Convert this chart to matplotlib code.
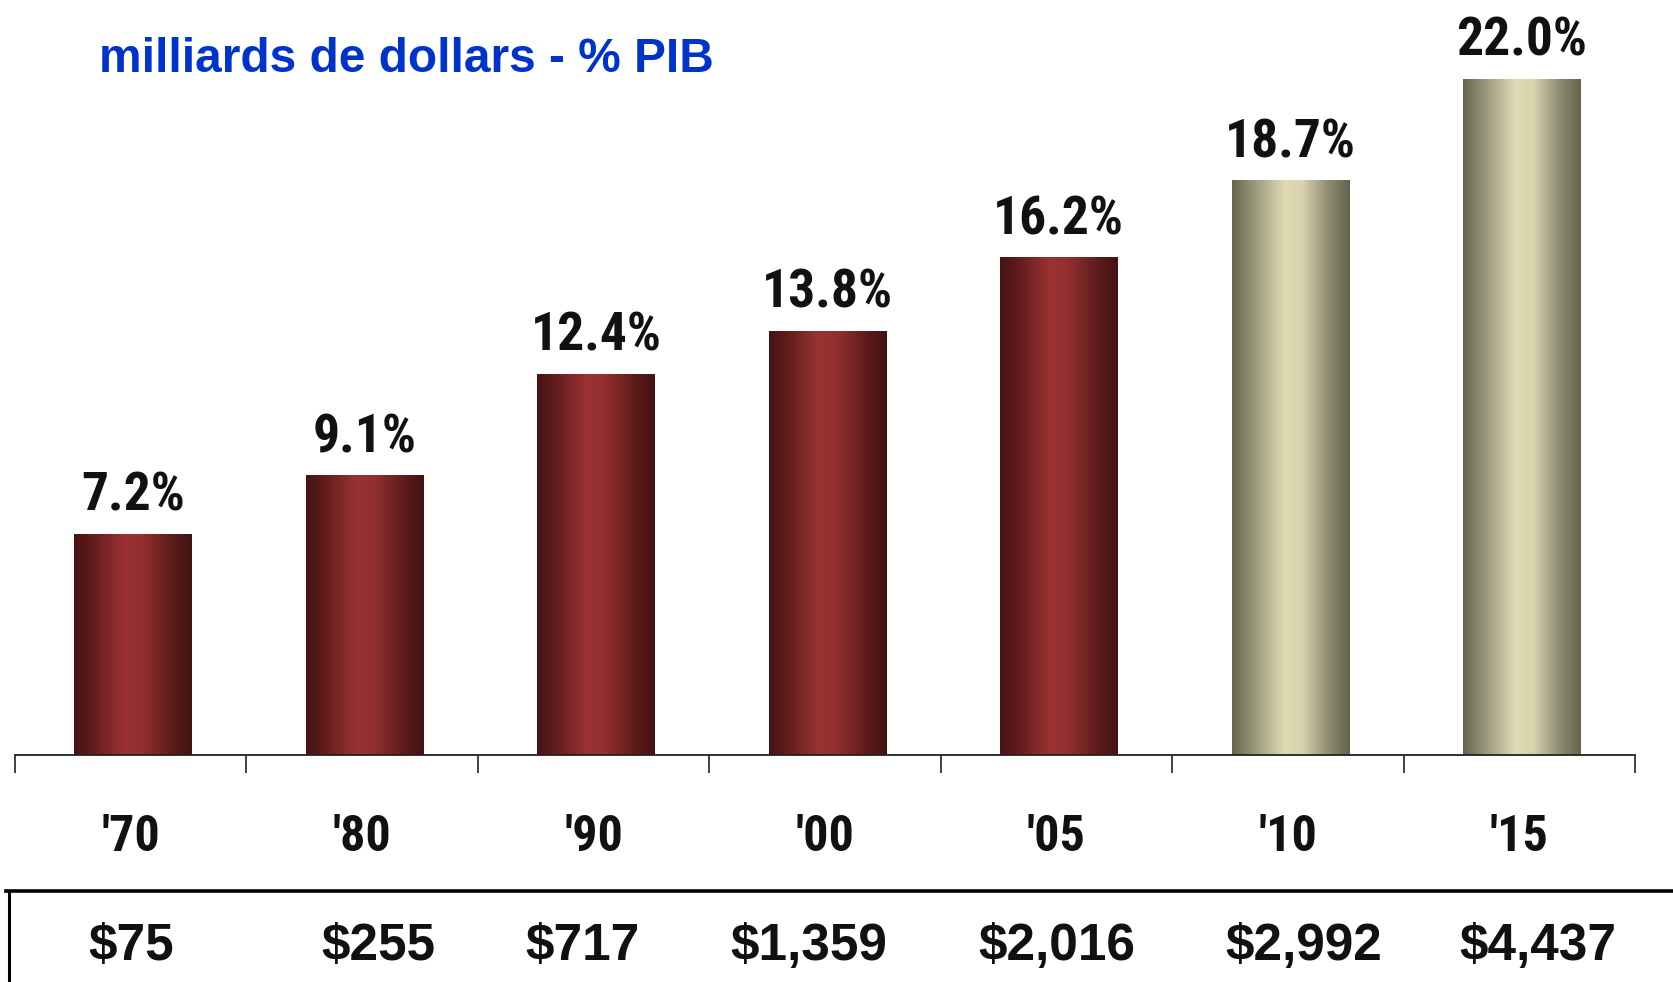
import numpy as np
import matplotlib
matplotlib.use("Agg")
import matplotlib.pyplot as plt
from matplotlib import font_manager
from matplotlib.colors import LinearSegmentedColormap
from matplotlib.lines import Line2D

years = ["'70", "'80", "'90", "'00", "'05", "'10", "'15"]
pct_gdp = [7.2, 9.1, 12.4, 13.8, 16.2, 18.7, 22.0]
dollars = ["$75", "$255", "$717", "$1,359", "$2,016", "$2,992", "$4,437"]
projected = [False, False, False, False, False, True, True]

TITLE = "milliards de dollars - % PIB"

W, H = 1673, 982


def pick(fams):
    have = {f.name for f in font_manager.fontManager.ttflist}
    for f in fams:
        if f in have:
            return f
    return "DejaVu Sans"


NARROW = pick(["Roboto Condensed", "PT Sans Narrow", "Liberation Sans"])
SANS = pick(["Liberation Sans", "Arimo", "DejaVu Sans"])

RED = LinearSegmentedColormap.from_list("red", [
    (0.0, "#461313"), (0.15, "#5f1c1c"), (0.42, "#9a3232"),
    (0.58, "#932f2f"), (0.85, "#5a1a1a"), (1.0, "#441212")])
KHAKI = LinearSegmentedColormap.from_list("khaki", [
    (0.0, "#66654e"), (0.2, "#9d9b7e"), (0.45, "#e1dbb4"),
    (0.6, "#d8d2ad"), (0.82, "#8e8c72"), (1.0, "#63624c")])

fig = plt.figure(figsize=(W / 100, H / 100), dpi=100)
fig.patch.set_facecolor("white")
ax_y0, ax_x0, ax_x1 = 755, 15, 1635
ax = fig.add_axes([ax_x0 / W, (H - ax_y0) / H, (ax_x1 - ax_x0) / W, ax_y0 / H])
ax.patch.set_alpha(0)

x = np.arange(len(years))
bars = ax.bar(x + 0.01, pct_gdp, width=0.507, color="none", edgecolor="none")
grad = np.linspace(0, 1, 256).reshape(1, -1)
for b, proj in zip(bars, projected):
    x0, w, h = b.get_x(), b.get_width(), b.get_height()
    im = ax.imshow(grad, extent=[x0, x0 + w, 0, h], aspect="auto",
                   cmap=KHAKI if proj else RED, zorder=2)
    im.set_clip_path(b)

ax.set_xlim(-0.5, 6.5)
ax.set_ylim(0, ax_y0 / 30.73)

for s in ("top", "left", "right"):
    ax.spines[s].set_visible(False)
ax.spines["bottom"].set_color("#222222")
ax.spines["bottom"].set_linewidth(1.3)
ax.set_yticks([])
ax.set_xticks(np.arange(-0.5, 7, 1.0))
ax.set_xticklabels([])
ax.tick_params(axis="x", direction="out", length=13, width=1.3, color="#333333")

for i, v in enumerate(pct_gdp):
    ax.annotate(f"{v:.1f}%", (i + 0.01, v), xytext=(0, 23), textcoords="offset pixels",
                ha="center", va="baseline", fontsize=38.5, fontweight="bold",
                family=NARROW, color="#111111")

for i, lab in enumerate(years):
    ax.annotate(lab, (i, 0), xycoords=("data", "axes fraction"), xytext=(0, -96),
                textcoords="offset pixels", ha="center", va="baseline",
                fontsize=36, fontweight="bold", family=NARROW, color="#111111")

dollar_shift = [0.0, 0.07, -0.05, -0.07, 0.0, 0.07, 0.08]
for i, lab in enumerate(dollars):
    ax.annotate(lab, (i + dollar_shift[i], 0), xycoords=("data", "axes fraction"),
                xytext=(0, -205), textcoords="offset pixels", ha="center",
                va="baseline", fontsize=37, fontweight="bold", family=SANS,
                color="#111111")

# table frame under the years
fig.add_artist(Line2D([6 / W, 1.0], [(H - 891) / H] * 2, transform=fig.transFigure,
                      color="black", lw=2.6))
fig.add_artist(Line2D([9 / W, 9 / W], [0, (H - 891) / H], transform=fig.transFigure,
                      color="black", lw=2.2))

fig.text(99 / W, (H - 72) / H, TITLE, color="#0033cc", fontsize=34.5,
         fontweight="bold", family=SANS, ha="left", va="baseline")

fig.savefig("out.png", dpi=100)
